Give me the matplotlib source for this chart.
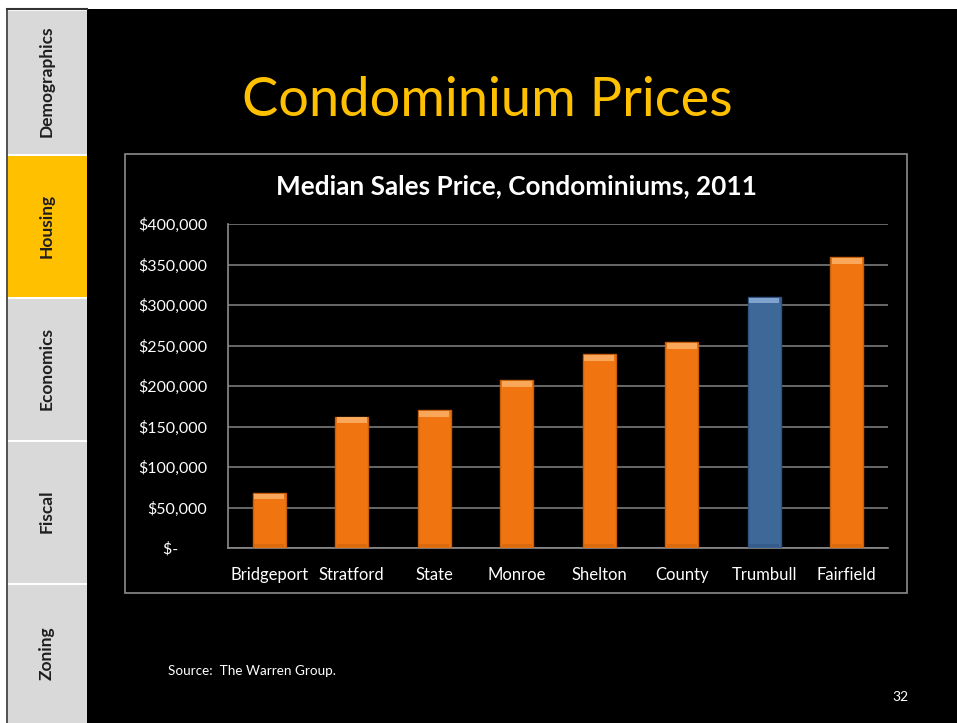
import matplotlib.pyplot as plt
from matplotlib.patches import Rectangle
from matplotlib.ticker import FuncFormatter

plt.rcParams['font.family'] = ['Lato', 'DejaVu Sans']

towns = ['Bridgeport', 'Stratford', 'State', 'Monroe', 'Shelton', 'County', 'Trumbull', 'Fairfield']
prices = [68000, 162000, 170000, 207000, 239000, 254000, 310000, 359000]
highlight = 'Trumbull'
tabs = ['Demographics', 'Housing', 'Economics', 'Fiscal', 'Zoning']
active_tab = 'Housing'

orange = '#f07511'
orange_light = '#f9a75a'
orange_dark = '#c85f0a'
blue = '#3d6898'
blue_light = '#7fa2cf'
blue_dark = '#2f5481'

W, H = 957, 723
fig = plt.figure(figsize=(W / 100, H / 100), dpi=100, facecolor='white')


def fx(px):
    return px / W


def fy(py):
    return 1 - py / H


# black slide area
fig.patches.append(Rectangle((fx(87), 0), 1 - fx(87), fy(9), transform=fig.transFigure,
                             facecolor='black', edgecolor='none', zorder=0))

# side tabs
tab_edges = [9, 154, 297, 440, 583, 723]
for i, name in enumerate(tabs):
    y0, y1 = tab_edges[i], tab_edges[i + 1]
    col = '#ffc000' if name == active_tab else '#d9d9d9'
    fig.patches.append(Rectangle((fx(8), fy(y1)), fx(79), (y1 - y0 - 2) / H,
                                 transform=fig.transFigure, facecolor=col,
                                 edgecolor='none', zorder=1))
    fig.text(fx(47), fy((y0 + y1) / 2), name, rotation=90, ha='center', va='center',
             fontsize=12.5, fontweight='bold', color='#1e1e1e')
fig.add_artist(plt.Line2D([fx(7), fx(87)], [fy(9), fy(9)], color='#333333', lw=1.5))
fig.add_artist(plt.Line2D([fx(7.5), fx(7.5)], [fy(9), 0], color='#333333', lw=1.2))

# slide title
fig.text(fx(487), fy(100), 'Condominium Prices', ha='center', va='center',
         fontsize=39, color='#ffc000')

# chart frame
fig.patches.append(Rectangle((fx(125), fy(593)), fx(907 - 125), (593 - 154) / H,
                             transform=fig.transFigure, facecolor='none',
                             edgecolor='#8c8c8c', lw=1.2, zorder=2))
fig.text(fx(516), fy(186), 'Median Sales Price, Condominiums, 2011', ha='center',
         va='center', fontsize=18.8, fontweight='bold', color='white')

ax = fig.add_axes([fx(228), fy(548), fx(660), 324 / H], zorder=5)
ax.set_facecolor('black')
x = range(len(towns))
face = [blue if t == highlight else orange for t in towns]
light = [blue_light if t == highlight else orange_light for t in towns]
dark = [blue_dark if t == highlight else orange_dark for t in towns]
bw = 0.4
ax.bar(x, prices, width=bw, color=face, edgecolor=dark, linewidth=1, zorder=3)
cap = 7000
ax.bar(x, [cap] * len(prices), width=bw * 0.92, bottom=[p - cap - 800 for p in prices],
       color=light, linewidth=0, zorder=4)
ax.bar(x, [cap * 0.6] * len(prices), width=bw * 0.92, bottom=[800] * len(prices),
       color=dark, alpha=0.5, linewidth=0, zorder=4)

ax.set_xlim(-0.5, len(towns) - 0.5)
ax.set_ylim(0, 400000)
ax.set_yticks(range(0, 400001, 50000))
ax.yaxis.set_major_formatter(FuncFormatter(
    lambda v, p: '$-       ' if v == 0 else '${:,.0f}'.format(v)))
ax.set_xticks(list(x))
ax.set_xticklabels(towns)
ax.tick_params(colors='white', length=0)
ax.tick_params(axis='y', pad=15, labelsize=11.5)
ax.tick_params(axis='x', pad=14, labelsize=12)
ax.grid(axis='y', color='#7a7a7a', linewidth=1.2, zorder=0)
for s in ['top', 'right']:
    ax.spines[s].set_visible(False)
for s in ['left', 'bottom']:
    ax.spines[s].set_color('#8c8c8c')
    ax.spines[s].set_linewidth(1.2)

fig.text(fx(168), fy(671), 'Source:  The Warren Group.', ha='left', va='center',
         fontsize=9.7, color='white')
fig.text(fx(900), fy(697), '32', ha='center', va='center', fontsize=10, color='white')

fig.savefig('out.png', dpi=100, facecolor=fig.get_facecolor())
